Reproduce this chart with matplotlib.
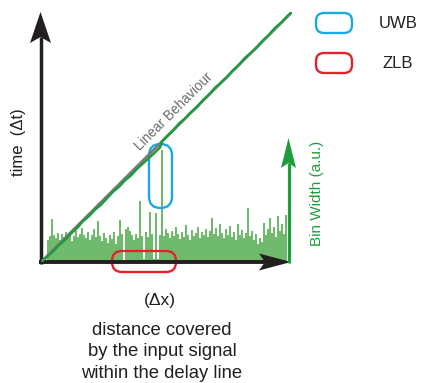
import numpy as np
import matplotlib.pyplot as plt
from matplotlib.patches import FancyBboxPatch, Polygon

plt.rcParams['font.family'] = ['Liberation Sans', 'DejaVu Sans']

# bin widths along the delay line (a.u.), one value per bin
bin_width = [
    22, 26, 43, 27, 24, 29, 22, 28, 25, 30, 24, 27, 21, 26, 31, 25, 28, 34, 27, 24,
    30, 22, 27, 33, 25, 41, 26, 21, 29, 24, 19, 27, 23, 30, 18, 26, 42, 28, 2, 33,
    35, 31, 27, 22, 28, 24, 61, 26, 3, 30, 25, 50, 28, 3, 49, 3, 27, 112, 26, 33,
    29, 24, 31, 26, 35, 28, 23, 30, 25, 37, 27, 22, 32, 26, 29, 35, 24, 30, 27, 33,
    25, 31, 44, 28, 34, 26, 38, 29, 24, 33, 27, 36, 25, 30, 22, 38, 27, 32, 24, 29,
    54, 26, 31, 22, 28, 18, 24, 20, 39, 27, 33, 44, 29, 35, 25, 46, 31, 38, 28, 47,
]

# measured delay: distance along the line and deviation of the time
# from the ideal linear behaviour (both in plot pixels)
dist = [0, 6, 12, 18, 24, 30, 36, 42, 48, 54, 60, 66, 72, 78, 84, 90, 96, 102,
        108, 114, 119, 121, 126, 132, 138, 144, 150, 156, 162, 168, 174, 180,
        186, 192, 198, 204, 210, 216, 222, 228, 234, 240, 246, 251]
time_dev = [0, -1, -1.5, -1, -2, -1.5, -2, -1, -2, -1.5, -2.5, -2, -1.5, -2.5,
            -2, -3, -2.5, -3, -3.5, -4, -4, 0, 0.5, 0, 1, 0, 0.5, -0.5, 0.5, 0,
            1, 0, -0.5, 0.5, 0, 1, 0, -0.5, 0.5, 0, 1, 0, 0.5, 0]

legend_labels = ['UWB', 'ZLB']
legend_colors = ['#1ca8e2', '#e4222a']

ink = '#231f20'
green = '#1f9c3d'

fig = plt.figure(figsize=(4.22, 3.83), dpi=100)
W, H = 422, 383

# plot box: origin at (41, 262) px, top-right at (292, 12) px
ax = fig.add_axes([41 / W, (H - 262) / H, 251 / W, 250 / H])
ax2 = ax.twinx()
ax.set_zorder(ax2.get_zorder() + 1)
for a in (ax, ax2):
    a.axis('off')

n = len(bin_width)
edges = np.linspace(6 / 251, 246 / 251, n + 1)
ax2.bar(edges[:-1], bin_width, width=np.diff(edges), align='edge',
        color='#70ba6e', linewidth=0)
ax2.set_ylim(0, 250)

x = np.array(dist) / 251
t = x + np.array(time_dev) / 250
ax.plot([0, 1], [0, 1], color='#7a7a7a', lw=2.0, solid_capstyle='butt')
ax.plot(x, t, color=green, lw=1.8)
ax.set_xlim(0, 1)
ax.set_ylim(0, 1)
ax.text(0.53, 0.6, 'Linear Behaviour', rotation=45, color='#6d6d6d',
        fontsize=9.8, ha='center', va='center', rotation_mode='anchor')

# overlay in pixel units for arrows, markers and labels
ov = fig.add_axes([0, 0, 1, 1])
ov.set_xlim(0, W)
ov.set_ylim(H, 0)
ov.axis('off')


def arrow(x0, y0, x1, y1, color, lw, head_len, head_w, notch):
    d = np.array([x1 - x0, y1 - y0], float)
    d /= np.hypot(*d)
    nrm = np.array([-d[1], d[0]])
    tip = np.array([x1, y1], float)
    base = tip - d * head_len
    back = tip - d * (head_len - notch)
    ov.plot([x0, back[0]], [y0, back[1]], color=color, lw=lw,
            solid_capstyle='butt')
    pts = [tip, base + nrm * head_w / 2, back, base - nrm * head_w / 2]
    ov.add_patch(Polygon(pts, closed=True, color=color, lw=0))


arrow(40.5, 264, 40.5, 12, ink, 2.5, 31, 21, 6)
arrow(39, 262, 291, 262, ink, 2.8, 32, 17, 6)
arrow(288.5, 263, 288.5, 138, green, 2.3, 30, 15, 5)


def pill(x, y, w, h, color, r):
    ov.add_patch(FancyBboxPatch((x, y), w, h,
                                boxstyle='round,pad=0,rounding_size=%g' % r,
                                fill=False, ec=color, lw=1.7))


pill(149, 144, 23, 64, legend_colors[0], 11.5)
pill(112, 251, 64, 21, legend_colors[1], 10)

for i, (lab, col) in enumerate(zip(legend_labels, legend_colors)):
    y = 13 + 40 * i
    pill(316, y, 36, 20, col, 8)
    ov.text(398, y + 10, lab, fontsize=12, color=ink, ha='center', va='center')

ov.text(18, 142, 'time  (\u0394t)', rotation=90, fontsize=12, color=ink,
        ha='center', va='center')
ov.text(317, 193, 'Bin Width (a.u.)', rotation=90, fontsize=11, color=green,
        ha='center', va='center')
ov.text(160, 300, '(\u0394x)', fontsize=12.5, color=ink, ha='center', va='center')
for k, line in enumerate(['distance covered', 'by the input signal',
                          'within the delay line']):
    ov.text(162, 330.5 + 21.3 * k, line, fontsize=13.3, color=ink,
            ha='center', va='center')

fig.savefig('out.png', dpi=100)
